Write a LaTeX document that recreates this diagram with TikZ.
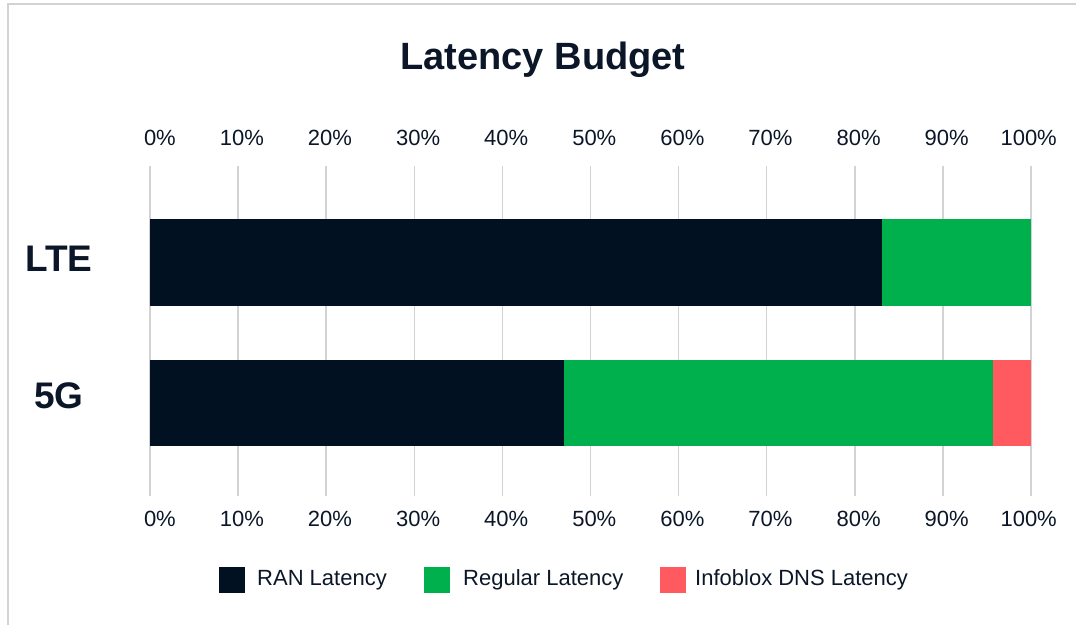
\documentclass[tikz,border=0pt]{standalone}
\usepackage{fontspec}
\setmainfont{Liberation Sans}
\definecolor{ink}{HTML}{0B1628}
\definecolor{ran}{HTML}{011122}
\definecolor{regular}{HTML}{00B04C}
\definecolor{dns}{HTML}{FF5A5F}
\definecolor{gridgray}{HTML}{D3D3D3}
\tikzset{
  ticklabel/.style={text=ink,font=\fontsize{22}{25}\selectfont,inner sep=0pt,anchor=east},
  catlabel/.style={text=ink,font=\fontsize{37}{40}\selectfont\bfseries,inner sep=0pt},
  legendtext/.style={text=ink,font=\fontsize{22}{25}\selectfont,inner sep=0pt,anchor=west},
}
\begin{document}
\begin{tikzpicture}[x=1pt,y=-1pt]
\useasboundingbox (0,0) rectangle (1076,625);

% frame
\draw[gridgray,line width=1.5pt] (8,625) -- (8,4) -- (1076,4);

\node[text=ink,font=\fontsize{38}{42}\selectfont\bfseries,inner sep=0pt] (title) at (543,60) {Latency Budget};

% grid and percent labels
\foreach \p in {0,10,...,100} {
    \draw[gridgray,line width=1.5pt] (150+8.81*\p,166) -- (150+8.81*\p,496);
    \node[ticklabel] (t\p) at (150+8.81*\p+26,138) {\p\%};
    \node[ticklabel] (b\p) at (150+8.81*\p+26,519) {\p\%};
}

% bars
\fill[ran]     (150,219) rectangle (882,306);
\fill[regular] (882,219) rectangle (1031,306);
\fill[ran]     (150,360) rectangle (564,446);
\fill[regular] (564,360) rectangle (993,446);
\fill[dns]     (993,360) rectangle (1031,446);

\node[catlabel] (lte) at (59,259) {LTE};
\node[catlabel] (fiveg) at (59,396) {5G};

% legend
\fill[ran]     (219,567) rectangle (245,593);
\fill[regular] (424,567) rectangle (450,593);
\fill[dns]     (660,567) rectangle (686,593);
\node[legendtext] (lran) at (257,580) {RAN Latency};
\node[legendtext] (lreg) at (463,580) {Regular Latency};
\node[legendtext] (ldns) at (695,580) {Infoblox DNS Latency};

\end{tikzpicture}
\end{document}
